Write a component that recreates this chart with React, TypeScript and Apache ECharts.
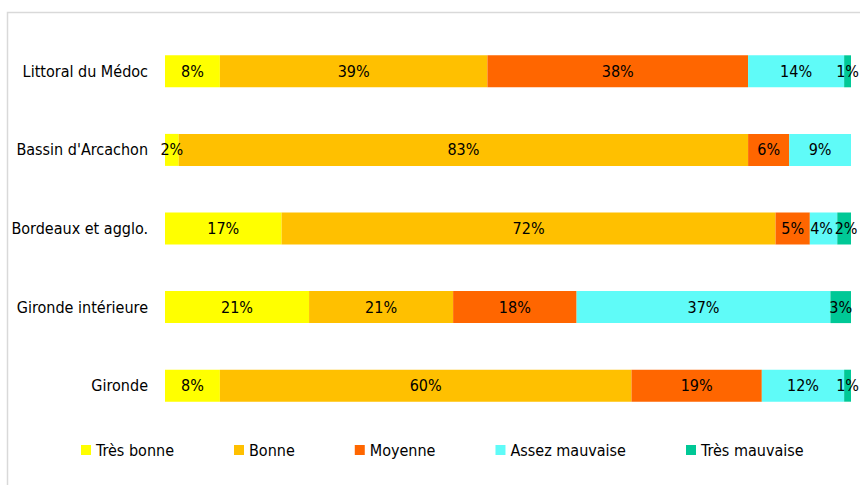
import React, { useEffect, useRef } from "react";
import * as echarts from "echarts";

const categories = [
  "Littoral du Médoc",
  "Bassin d'Arcachon",
  "Bordeaux et agglo.",
  "Gironde intérieure",
  "Gironde",
];
const seriesNames = ["Très bonne", "Bonne", "Moyenne", "Assez mauvaise", "Très mauvaise"];
const tresBonne = [8, 2, 17, 21, 8];
const bonne = [39, 83, 72, 21, 60];
const moyenne = [38, 6, 5, 18, 19];
const assezMauvaise = [14, 9, 4, 37, 12];
const tresMauvaise = [1, 0, 2, 3, 1];
const colors = ["#FFFF00", "#FFC000", "#FF6600", "#5FFBF8", "#00C896"];

const FONT = "'DejaVu Sans Condensed', 'Liberation Sans', sans-serif";

// small label nudges for crowded segments: [seriesIndex, dataIndex, dx]
const labelNudges: [number, number, number][] = [
  [3, 2, -2],
  [4, 2, 2],
];

export default function App() {
  const ref = useRef<HTMLDivElement>(null);
  useEffect(() => {
    if (!ref.current) return;
    const chart = echarts.init(ref.current, undefined, { renderer: "svg" });
    const allData = [tresBonne, bonne, moyenne, assezMauvaise, tresMauvaise];
    chart.setOption({
      animation: false,
      textStyle: { fontFamily: FONT },
      graphic: [
        {
          type: "rect",
          shape: { x: 7.5, y: 12.5, width: 900, height: 500 },
          style: { fill: "none", stroke: "#d9d9d9", lineWidth: 1.5 },
          silent: true,
        },
      ],
      grid: { left: 165, right: 9, top: 32, bottom: 60, containLabel: false },
      xAxis: {
        type: "value",
        min: 0,
        max: 100,
        show: false,
      },
      yAxis: {
        type: "category",
        data: categories,
        inverse: true,
        axisLine: { show: false },
        axisTick: { show: false },
        splitLine: { show: false },
        axisLabel: {
          color: "#000",
          fontSize: 16,
          margin: 17,
          fontFamily: FONT,
        },
      },
      legend: {
        left: 81,
        top: 442,
        padding: 0,
        itemWidth: 10,
        itemHeight: 10,
        itemGap: 60,
        icon: "rect",
        textStyle: { color: "#000", fontSize: 16, fontFamily: FONT, padding: [0, 0, 0, 0] },
        data: seriesNames,
      },
      series: seriesNames.map((name, i) => ({
        name,
        type: "bar",
        stack: "total",
        barWidth: 32,
        data: allData[i].map((v, j) => {
          const n = labelNudges.find((x) => x[0] === i && x[1] === j);
          return n ? { value: v, label: { offset: [n[2], 0] } } : v;
        }),
        itemStyle: { color: colors[i] },
        label: {
          show: true,
          position: "inside",
          color: "#000",
          fontSize: 16,
          fontFamily: FONT,
          formatter: (p: any) => (p.value > 0 ? p.value + "%" : ""),
        },
      })),
    });
    return () => chart.dispose();
  }, []);
  return <div ref={ref} style={{ width: 860, height: 485, position: "absolute", left: 0, top: 0 }} />;
}
